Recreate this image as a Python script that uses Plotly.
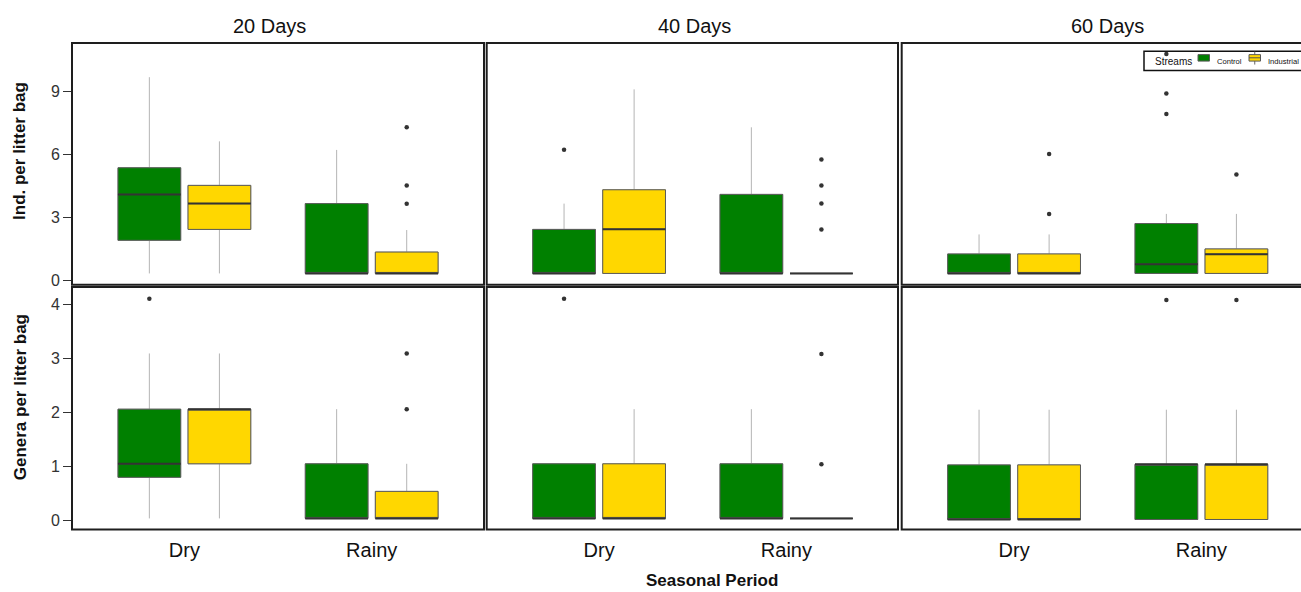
import plotly.graph_objects as go

# ---------------------------------------------------------------------------
# Data: invertebrates colonising litter bags in control vs industrial streams
# Cells are ordered: 20d Dry, 20d Rainy, 40d Dry, 40d Rainy, 60d Dry, 60d Rainy
# ---------------------------------------------------------------------------
DAYS = ["20 Days", "40 Days", "60 Days"]
SEASONS = ["Dry", "Rainy"]
STREAMS = ["Control", "Industrial"]

# Individuals per litter bag – box summaries
ind_control_q1 = [1.91, 0.33, 0.33, 0.33, 0.33, 0.33]
ind_control_med = [4.10, 0.33, 0.33, 0.33, 0.33, 0.77]
ind_control_q3 = [5.37, 3.66, 2.43, 4.10, 1.26, 2.71]
ind_control_lo = [0.33, 0.33, 0.33, 0.33, 0.33, 0.33]
ind_control_hi = [9.69, 6.22, 3.66, 7.30, 2.19, 3.17]

ind_industrial_q1 = [2.43, 0.33, 0.33, 0.33, 0.33, 0.33]
ind_industrial_med = [3.66, 0.33, 2.44, 0.33, 0.33, 1.25]
ind_industrial_q3 = [4.53, 1.35, 4.32, 0.33, 1.26, 1.50]
ind_industrial_lo = [0.33, 0.33, 0.33, 0.33, 0.33, 0.33]
ind_industrial_hi = [6.63, 2.40, 9.11, 0.33, 2.19, 3.17]

ind_control_out = [("40 Days", "Dry", 6.23), ("60 Days", "Rainy", 7.93),
                   ("60 Days", "Rainy", 8.91), ("60 Days", "Rainy", 10.80)]
ind_industrial_out = [("20 Days", "Rainy", 7.30), ("20 Days", "Rainy", 4.53),
                      ("20 Days", "Rainy", 3.65), ("40 Days", "Rainy", 5.76),
                      ("40 Days", "Rainy", 4.53), ("40 Days", "Rainy", 3.66),
                      ("40 Days", "Rainy", 2.43), ("60 Days", "Dry", 6.03),
                      ("60 Days", "Dry", 3.17), ("60 Days", "Rainy", 5.05)]

# Genera per litter bag – box summaries
gen_control_q1 = [0.80, 0.04, 0.04, 0.04, 0.02, 0.02]
gen_control_med = [1.05, 0.04, 0.04, 0.04, 0.02, 1.04]
gen_control_q3 = [2.06, 1.05, 1.05, 1.05, 1.03, 1.04]
gen_control_lo = [0.04, 0.04, 0.04, 0.04, 0.02, 0.02]
gen_control_hi = [3.09, 2.06, 1.05, 2.06, 2.05, 2.05]

gen_industrial_q1 = [1.05, 0.04, 0.04, 0.04, 0.02, 0.02]
gen_industrial_med = [2.06, 0.04, 0.04, 0.04, 0.02, 1.04]
gen_industrial_q3 = [2.06, 0.54, 1.05, 0.04, 1.03, 1.04]
gen_industrial_lo = [0.04, 0.04, 0.04, 0.04, 0.02, 0.02]
gen_industrial_hi = [3.09, 1.05, 2.06, 0.04, 2.05, 2.05]

gen_control_out = [("20 Days", "Dry", 4.10), ("40 Days", "Dry", 4.10),
                   ("60 Days", "Rainy", 4.08)]
gen_industrial_out = [("20 Days", "Rainy", 3.09), ("20 Days", "Rainy", 2.06),
                      ("40 Days", "Rainy", 3.08), ("40 Days", "Rainy", 1.04),
                      ("60 Days", "Rainy", 4.08)]

Y_TITLES = ["Ind. per litter bag", "Genera per litter bag"]
Y_TICKS = [[0, 3, 6, 9], [0, 1, 2, 3, 4]]
X_TITLE = "Seasonal Period"
LEGEND_TITLE = "Streams"

# ---------------------------------------------------------------------------
# Styling / geometry
# ---------------------------------------------------------------------------
W, H = 1301, 592
FONT = "Liberation Sans, Arial, sans-serif"
FILL = {"Control": "#008000", "Industrial": "#FFD700"}
OFFSET = {"Control": -0.187, "Industrial": 0.187}
BOX_W = 0.335
WHISKER_COLOR = "#b4b4b4"
BOX_LINE = "#5a5a5a"
MEDIAN_COLOR = "#333333"

# panel pixel extents
COL_PX = [(72.0, 484.0), (486.7, 898.0), (901.7, 1314.0)]
ROW_PX = [(43.3, 286.7), (289.0, 533.0)]
PX_PER_UNIT = 187.3
X_LEFT = -0.6
ROW_RANGE = [[-0.21, 11.32], [-0.163, 4.318]]

stats = {
    (0, "Control"): (ind_control_q1, ind_control_med, ind_control_q3, ind_control_lo, ind_control_hi, ind_control_out),
    (0, "Industrial"): (ind_industrial_q1, ind_industrial_med, ind_industrial_q3, ind_industrial_lo, ind_industrial_hi, ind_industrial_out),
    (1, "Control"): (gen_control_q1, gen_control_med, gen_control_q3, gen_control_lo, gen_control_hi, gen_control_out),
    (1, "Industrial"): (gen_industrial_q1, gen_industrial_med, gen_industrial_q3, gen_industrial_lo, gen_industrial_hi, gen_industrial_out),
}


def px_x(px):
    return px / W


def px_y(px):
    return 1 - px / H


fig = go.Figure()
box_traces, med_traces, out_traces = [], [], []

for r in range(2):
    for c, day in enumerate(DAYS):
        n = r * 3 + c + 1
        xa, ya = f"x{n}", f"y{n}"
        for s in STREAMS:
            q1, med, q3, lo, hi, outs = stats[(r, s)]
            sl = slice(2 * c, 2 * c + 2)
            xs = [i + OFFSET[s] for i in range(len(SEASONS))]
            common = dict(x=xs, q1=q1[sl], median=med[sl], q3=q3[sl], width=BOX_W,
                          fillcolor=FILL[s], whiskerwidth=0, xaxis=xa, yaxis=ya,
                          hoverinfo="skip", boxpoints=False, showlegend=False)
            # whiskers (light grey)
            box_traces.append(go.Box(lowerfence=lo[sl], upperfence=hi[sl],
                                     line=dict(color=WHISKER_COLOR, width=1), **common))
            # box body with darker outline
            box_traces.append(go.Box(lowerfence=q1[sl], upperfence=q3[sl],
                                     line=dict(color=BOX_LINE, width=1), name=s, **common))
            # median bars
            mx, my = [], []
            for x0, m in zip(xs, med[sl]):
                mx += [x0 - BOX_W / 2, x0 + BOX_W / 2, None]
                my += [m, m, None]
            med_traces.append(go.Scatter(x=mx, y=my, mode="lines",
                                         line=dict(color=MEDIAN_COLOR, width=2),
                                         xaxis=xa, yaxis=ya, showlegend=False,
                                         hoverinfo="skip"))
            # outliers
            ox = [SEASONS.index(se) + OFFSET[s] for d, se, v in outs if d == day]
            oy = [v for d, se, v in outs if d == day]
            if ox:
                out_traces.append(go.Scatter(x=ox, y=oy, mode="markers",
                                             marker=dict(color="#333333", size=4.5),
                                             xaxis=xa, yaxis=ya, showlegend=False,
                                             hoverinfo="skip"))

for t in box_traces + med_traces + out_traces:
    fig.add_trace(t)

layout = dict(width=W, height=H, margin=dict(l=0, r=0, t=0, b=0),
              paper_bgcolor="white", plot_bgcolor="white",
              font=dict(family=FONT, color="#222"),
              boxmode="overlay", showlegend=False)

shapes, annotations = [], []
for r in range(2):
    for c in range(3):
        n = r * 3 + c + 1
        x0, x1 = COL_PX[c]
        x1c = min(x1, W)
        y0, y1 = ROW_PX[r]
        xr = [X_LEFT, X_LEFT + (x1c - x0) / PX_PER_UNIT]
        sfx = "" if n == 1 else str(n)
        layout[f"xaxis{sfx}"] = dict(
            domain=[px_x(x0), px_x(x1c)], anchor=f"y{n}", range=xr,
            showgrid=False, zeroline=False, showline=False,
            tickvals=[0, 1], ticktext=SEASONS, ticks="",
            showticklabels=(r == 1), tickfont=dict(size=20, color="#111"),
            ticklabelstandoff=7, fixedrange=True)
        layout[f"yaxis{sfx}"] = dict(
            domain=[px_y(y1), px_y(y0)], anchor=f"x{n}", range=ROW_RANGE[r],
            showgrid=False, zeroline=False, showline=False,
            tickvals=Y_TICKS[r], ticks="outside" if c == 0 else "",
            ticklen=8, tickwidth=1.2, tickcolor="#333",
            showticklabels=(c == 0), tickfont=dict(size=16, color="#333"),
            fixedrange=True)
        shapes.append(dict(type="rect", xref="paper", yref="paper",
                           x0=px_x(x0), x1=px_x(x1), y0=px_y(y1), y1=px_y(y0),
                           line=dict(color="#1e1e1e", width=2), layer="above"))

# facet titles
for c, day in enumerate(DAYS):
    cx = [269.5, 694.0, 1107.0][c]
    annotations.append(dict(text=day, x=px_x(cx), y=px_y(26), xref="paper", yref="paper",
                            showarrow=False, font=dict(size=20, color="#111"),
                            xanchor="center", yanchor="middle"))
# axis titles
for r, (txt, cy) in enumerate(zip(Y_TITLES, [152, 400])):
    annotations.append(dict(text=f"<b>{txt}</b>", x=px_x(20), y=px_y(cy),
                            xref="paper", yref="paper", showarrow=False, textangle=-90,
                            font=dict(size=17, color="#111"),
                            xanchor="center", yanchor="middle"))
annotations.append(dict(text=f"<b>{X_TITLE}</b>", x=px_x(712), y=px_y(584),
                        xref="paper", yref="paper", showarrow=False,
                        font=dict(size=17, color="#111"),
                        xanchor="center", yanchor="middle"))

# stream key drawn inside the 60-day panel
shapes.append(dict(type="rect", xref="paper", yref="paper",
                   x0=px_x(1144), x1=px_x(1312), y0=px_y(71), y1=px_y(51.5),
                   line=dict(color="#111", width=1.5), fillcolor="rgba(255,255,255,0)",
                   layer="above"))
annotations.append(dict(text=LEGEND_TITLE, x=px_x(1153), y=px_y(61.5), xref="paper", yref="paper",
                        showarrow=False, font=dict(size=10, color="#111"),
                        xanchor="left", yanchor="middle"))
key_px = {"Control": (1198, 1215), "Industrial": (1249, 1266)}
for s in STREAMS:
    kx, tx = key_px[s]
    kx1 = kx + 11.5
    kc = (kx + kx1) / 2
    if s == "Industrial":
        shapes.append(dict(type="line", xref="paper", yref="paper",
                           x0=px_x(kc), x1=px_x(kc), y0=px_y(52), y1=px_y(65),
                           line=dict(color="#666", width=1), layer="above"))
    shapes.append(dict(type="rect", xref="paper", yref="paper",
                       x0=px_x(kx), x1=px_x(kx1), y0=px_y(61.5), y1=px_y(55),
                       line=dict(color=BOX_LINE, width=1), fillcolor=FILL[s], layer="above"))
    if s == "Industrial":
        shapes.append(dict(type="line", xref="paper", yref="paper",
                           x0=px_x(kx), x1=px_x(kx1), y0=px_y(58.2), y1=px_y(58.2),
                           line=dict(color="#555", width=1), layer="above"))
    annotations.append(dict(text=s, x=px_x(tx), y=px_y(61.5), xref="paper", yref="paper",
                            showarrow=False, font=dict(size=7.6, color="#111"),
                            xanchor="left", yanchor="middle"))

layout["shapes"] = shapes
layout["annotations"] = annotations
fig.update_layout(**layout)

fig.write_html("out.html")
